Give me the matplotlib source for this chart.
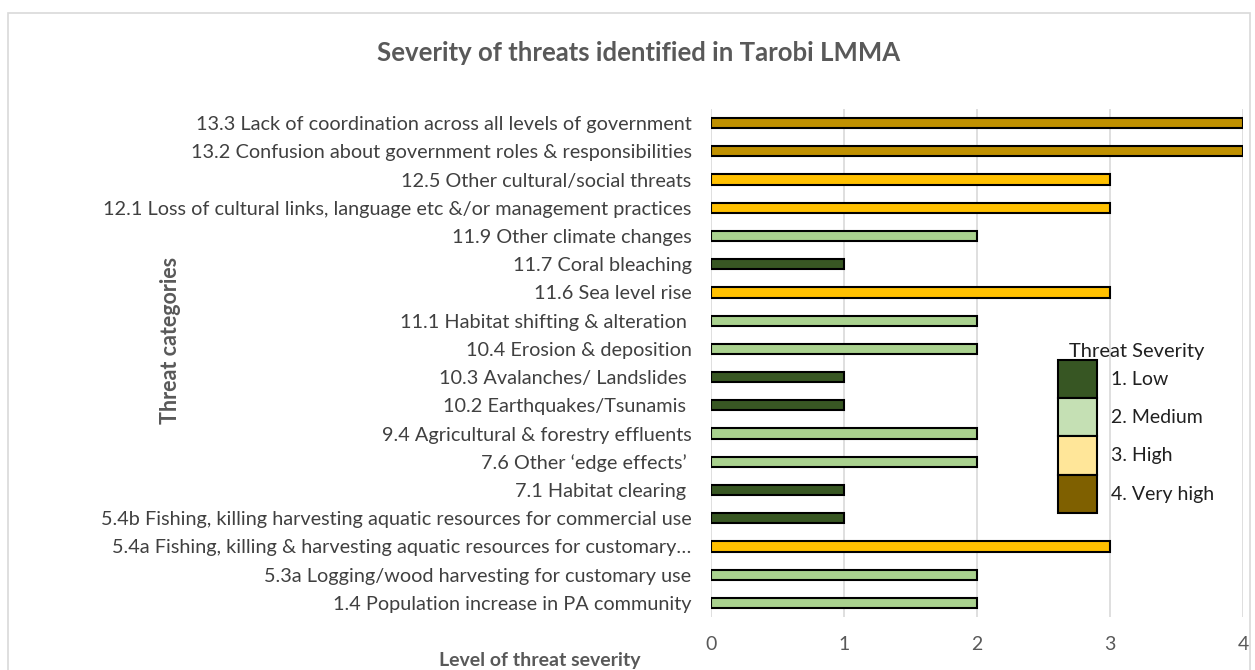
import matplotlib
matplotlib.use("Agg")
import matplotlib.pyplot as plt
from matplotlib.patches import Patch, Rectangle

plt.rcParams['font.family'] = ['Lato', 'DejaVu Sans']

# threat categories, top to bottom as they appear
categories = [
    "13.3 Lack of coordination across all levels of government",
    "13.2 Confusion about government roles & responsibilities",
    "12.5 Other cultural/social threats",
    "12.1 Loss of cultural links, language etc &/or management practices",
    "11.9 Other climate changes",
    "11.7 Coral bleaching",
    "11.6 Sea level rise",
    "11.1 Habitat shifting & alteration ",
    "10.4 Erosion & deposition",
    "10.3 Avalanches/ Landslides ",
    "10.2 Earthquakes/Tsunamis ",
    "9.4 Agricultural & forestry effluents",
    "7.6 Other \u2018edge effects\u2019 ",
    "7.1 Habitat clearing ",
    "5.4b Fishing, killing harvesting aquatic resources for commercial use",
    "5.4a Fishing, killing & harvesting aquatic resources for customary\u2026",
    "5.3a Logging/wood harvesting for customary use",
    "1.4 Population increase in PA community",
]
severity = [4, 4, 3, 3, 2, 1, 3, 2, 2, 1, 1, 2, 2, 1, 1, 3, 2, 2]

bar_colors = {1: '#385723', 2: '#A9D18E', 3: '#FFC000', 4: '#BF9000'}
legend_labels = ['1. Low', '2. Medium', '3. High', '4. Very high']
legend_colors = ['#375623', '#C5E0B4', '#FFE699', '#7F6000']

fig = plt.figure(figsize=(12.55, 6.7), dpi=100)
ax = fig.add_axes([0.5665, 0.0791, 0.424, 0.7582])

ypos = list(range(len(categories)))
ax.barh(ypos, severity, height=0.36,
        color=[bar_colors[v] for v in severity],
        edgecolor='black', linewidth=1.5, zorder=3)

ax.set_ylim(len(categories) - 0.5, -0.5)
ax.set_xlim(0, 4)
ax.set_xticks([0, 1, 2, 3, 4])
ax.set_yticks(ypos)
ax.set_yticklabels(categories, fontsize=14.3, color='#404040')
ax.tick_params(axis='x', labelsize=14, colors='#595959', length=0, pad=14)
ax.tick_params(axis='y', length=0, pad=14)
ax.grid(axis='x', color='#D9D9D9', linewidth=1.2, zorder=0)
for s in ax.spines.values():
    s.set_visible(False)

fig.text(0.5085, 0.921, 'Severity of threats identified in Tarobi LMMA',
         ha='center', va='center', fontsize=18.5, fontweight='bold', color='#595959')
fig.text(0.430, 0.014, 'Level of threat severity', ha='center', va='center',
         fontsize=14, fontweight='bold', color='#595959')
fig.text(0.1355, 0.492, 'Threat categories', ha='center', va='center',
         rotation=90, fontsize=15.5, fontweight='bold', color='#595959')

handles = [Patch(facecolor=c, edgecolor='black', linewidth=1.5) for c in legend_colors]
leg = ax.legend(handles, legend_labels, title='Threat Severity',
                loc='upper left', bbox_to_anchor=(0.6375, 0.555),
                frameon=False, fontsize=14, title_fontsize=14.5,
                handlelength=2.0, handleheight=2.65, labelspacing=0,
                handletextpad=0.75, borderaxespad=0)
leg.get_title().set_color('#202020')
for t in leg.get_texts():
    t.set_color('#202020')

fig.add_artist(Rectangle((0.0064, -0.01), 0.9896, 0.99, transform=fig.transFigure,
                         fill=False, edgecolor='#D9D9D9', linewidth=1.2))

fig.savefig('out.png', dpi=100, facecolor='white')
